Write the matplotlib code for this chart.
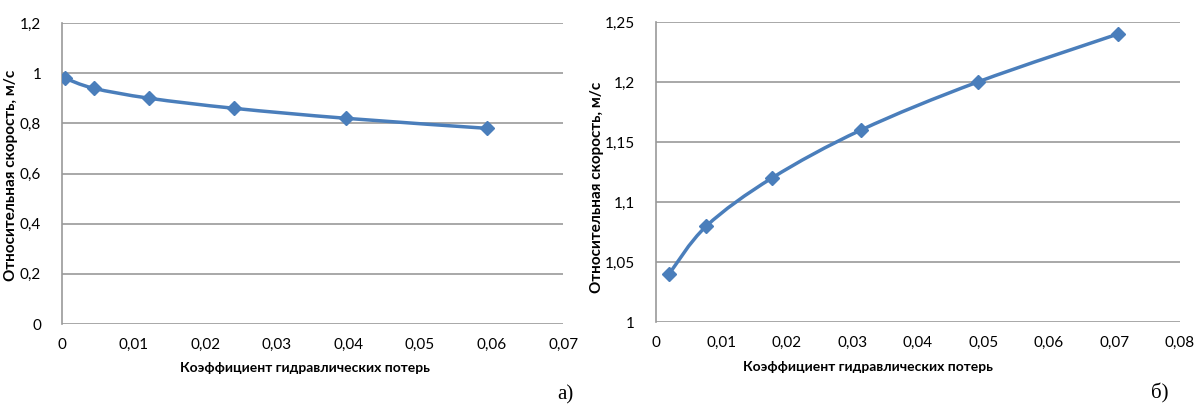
import matplotlib
matplotlib.use("Agg")
import matplotlib.pyplot as plt
from matplotlib.path import Path
from matplotlib.patches import PathPatch
from matplotlib.ticker import MultipleLocator, FuncFormatter

# chart a)
x_a = [0.0004, 0.0044, 0.0122, 0.0240, 0.0397, 0.0594]
y_a = [0.98, 0.94, 0.90, 0.86, 0.82, 0.78]

# chart б)
x_b = [0.0020, 0.0077, 0.0177, 0.0313, 0.0491, 0.0705]
y_b = [1.04, 1.08, 1.12, 1.16, 1.20, 1.24]

xlabel = "Коэффициент гидравлических потерь"
ylabel = "Относительная скорость, м/с"

BLUE = "#4a7ebb"
GRID = "#999999"
plt.rcParams['font.family'] = ['Lato', 'DejaVu Sans']


def smooth_path(ax, xs, ys):
    """Excel-like smoothed line: Catmull-Rom as cubic Bezier segments."""
    pts = ax.transData.transform(list(zip(xs, ys)))
    verts = [tuple(pts[0])]
    codes = [Path.MOVETO]
    n = len(pts)
    for i in range(n - 1):
        p0 = pts[i - 1] if i > 0 else pts[i]
        p1 = pts[i]
        p2 = pts[i + 1]
        p3 = pts[i + 2] if i + 2 < n else pts[i + 1]
        c1 = p1 + (p2 - p0) / 6.0
        c2 = p2 - (p3 - p1) / 6.0
        verts += [tuple(c1), tuple(c2), tuple(p2)]
        codes += [Path.CURVE4] * 3
    inv = ax.transData.inverted()
    verts = inv.transform(verts)
    patch = PathPatch(Path(verts, codes), facecolor="none", edgecolor=BLUE,
                      lw=2.5, zorder=3, capstyle="round", joinstyle="round")
    ax.add_patch(patch)


def comma(v, pos):
    s = ("%.2f" % v).rstrip("0").rstrip(".")
    return s.replace(".", ",")


def style(ax, xmax, ymin, ymax, ystep):
    ax.set_xlim(0, xmax)
    ax.set_ylim(ymin, ymax)
    ax.xaxis.set_major_locator(MultipleLocator(0.01))
    ax.yaxis.set_major_locator(MultipleLocator(ystep))
    ax.xaxis.set_major_formatter(FuncFormatter(comma))
    ax.yaxis.set_major_formatter(FuncFormatter(comma))
    for s in ["top", "right", "bottom"]:
        ax.spines[s].set_visible(False)
    ax.spines["left"].set_color(GRID)
    ax.spines["left"].set_linewidth(1.2)
    ax.grid(axis="y", color=GRID, lw=1.2)
    ax.set_axisbelow(True)
    ax.tick_params(length=0, labelsize=11, colors="black")
    ax.tick_params(axis="y", pad=15)
    ax.tick_params(axis="x", pad=10)
    ax.set_xlabel(xlabel, fontsize=10, fontweight="bold")
    ax.set_ylabel(ylabel, fontsize=11, fontweight="bold")


fig = plt.figure(figsize=(11.97, 4.07), dpi=100)
ax1 = fig.add_axes([0.0518, 0.2039, 0.4186, 0.7396])
ax2 = fig.add_axes([0.548, 0.2088, 0.4378, 0.737])

style(ax1, 0.07, 0, 1.2, 0.2)
style(ax2, 0.08, 1.0, 1.25, 0.05)

smooth_path(ax1, x_a, y_a)
ax1.plot(x_a, y_a, ls="none", marker="D", ms=7, color=BLUE, zorder=4)
smooth_path(ax2, x_b, y_b)
ax2.plot(x_b, y_b, ls="none", marker="D", ms=7, color=BLUE, zorder=4)

ax1.xaxis.set_label_coords(0.485, -0.126)
ax2.xaxis.set_label_coords(0.405, -0.13)
ax1.yaxis.set_label_coords(-0.088, 0.495)
ax2.yaxis.set_label_coords(-0.1, 0.45)

fig.text(565 / 1197, 1 - 395 / 407, "а)", family="Liberation Serif",
         fontsize=15, ha="center", va="center")
fig.text(1160 / 1197, 1 - 393 / 407, "б)", family="Liberation Serif",
         fontsize=15, ha="center", va="center")

fig.savefig("out.png", dpi=100)
